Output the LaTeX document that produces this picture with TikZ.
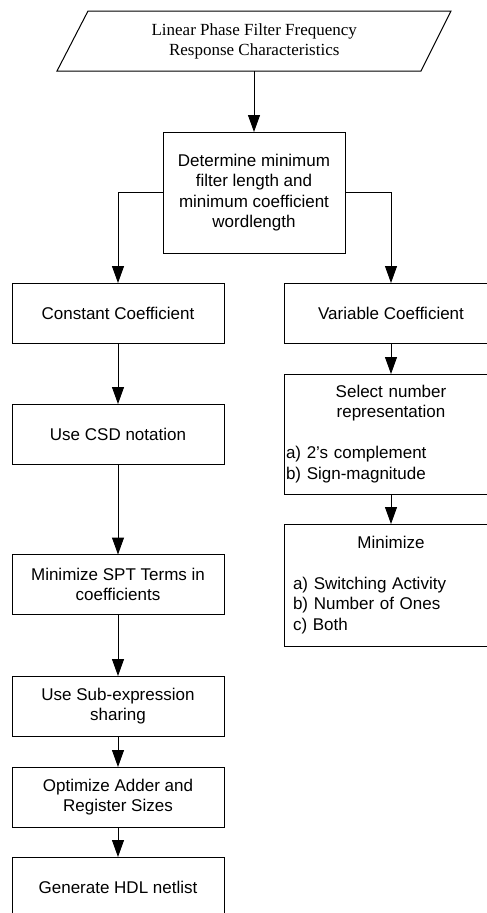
\documentclass[tikz,border=0pt]{standalone}
\usepackage{fontspec}
\setmainfont{Liberation Sans}
\newfontfamily\specfont{Liberation Serif}
\usetikzlibrary{arrows.meta}

\tikzset{
  txt/.style={font=\fontsize{17}{20.5}\selectfont},
  outline/.style={draw, line width=1pt},
  stepbox/.style={outline, txt, align=center,
    minimum width=212pt, minimum height=60pt, inner sep=0pt, outer sep=0pt},
  rbox/.style={stepbox, minimum width=214pt},
  arr/.style={line width=1pt, -{Triangle[length=17pt,width=12pt]}},
}

\begin{document}
\begin{tikzpicture}[x=1pt,y=-1pt]
  \useasboundingbox (0,0) rectangle (487,913);
  \clip (0,0) rectangle (487,913);

  % input specification (parallelogram)
  \draw[line width=1pt] (88,11) -- (451,11) -- (421,71) -- (57,71) -- cycle;
  \coordinate (specbot) at (254,71);
  \node[align=center, inner sep=0pt, font=\specfont\fontsize{17}{20}\selectfont]
    (spec) at (254.25,41) {Linear Phase Filter Frequency\\Response Characteristics};

  \node[stepbox, minimum width=182pt, minimum height=121pt]
    (det) at (254,192.5) {Determine minimum\\filter length and\\minimum coefficient\\wordlength};

  % constant coefficient branch
  \node[stepbox] (const) at (118,313)   {Constant Coefficient};
  \node[stepbox] (csd)   at (118,434)   {Use CSD notation};
  \node[stepbox] (spt)   at (118,584.5) {Minimize SPT Terms in\\coefficients};
  \node[stepbox] (sub)   at (118,706)   {Use Sub-expression\\sharing};
  \node[stepbox] (opt)   at (118,797)   {Optimize Adder and\\Register Sizes};
  \node[stepbox] (hdl)   at (118,887)   {Generate HDL netlist};

  % variable coefficient branch
  \node[rbox] (var) at (391,313) {Variable Coefficient};
  \node[rbox, minimum height=120pt, text width=210pt, align=left]
    (rep) at (391,434)
    {\makebox[\linewidth]{Select number}\\
     \makebox[\linewidth]{representation}\\[20.5pt]
     a) 2's complement\\
     b) Sign-magnitude};
  \node[rbox, minimum height=122pt, text width=196pt, align=left]
    (mini) at (391,585)
    {\makebox[\linewidth]{Minimize}\\[20.5pt]
     a) Switching Activity\\
     b) Number of Ones\\
     c) Both};

  % connectors
  \draw[arr] (det.north |- specbot) -- (det.north);
  \draw[arr] (det.west) -| (const.north);
  \draw[arr] (det.east) -| (var.north);
  \draw[arr] (const) -- (csd);
  \draw[arr] (csd) -- (spt);
  \draw[arr] (spt) -- (sub);
  \draw[arr] (sub) -- (opt);
  \draw[arr] (opt) -- (hdl);
  \draw[arr] (var) -- (rep);
  \draw[arr] (rep) -- (mini);
\end{tikzpicture}
\end{document}
